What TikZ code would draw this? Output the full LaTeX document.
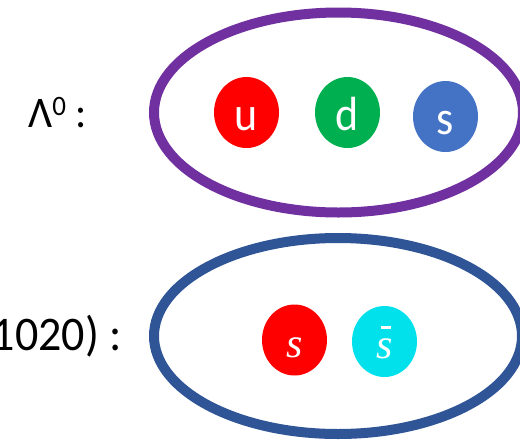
\documentclass[tikz,border=0pt]{standalone}
\usepackage{fontspec}
\setmainfont{Carlito}
\newfontfamily\quarkserif{Liberation Serif}
\usetikzlibrary{shapes.geometric}
\definecolor{lambdaring}{HTML}{7030A0}
\definecolor{phiring}{HTML}{2F5597}
\definecolor{qred}{HTML}{FF0000}
\definecolor{qgreen}{HTML}{00B050}
\definecolor{qblue}{HTML}{4472C4}
\definecolor{qcyan}{HTML}{00E1EB}
% slightly tall lettering
\newcommand\tallbox[2][1.09]{\scalebox{1}[#1]{#2}}
\begin{document}
\begin{tikzpicture}[x=1pt,y=-1pt,
  hadron/.style={ellipse, draw, line width=10pt, inner sep=0pt},
  quark/.style={ellipse, fill, inner sep=0pt, minimum width=65pt,
    minimum height=71pt, text=white, text height=35pt, text depth=0pt,
    font=\fontsize{44}{44}\selectfont},
  quarkit/.style={quark, text height=34pt,
    font=\fontsize{42}{42}\selectfont\quarkserif\itshape},
  tag/.style={anchor=base east, inner sep=0pt}]
\useasboundingbox (0,0) rectangle (520,440);
\clip (0,0) rectangle (520,440);

% Lambda baryon: u d s
\node[hadron, draw=lambdaring, minimum width=369pt, minimum height=200pt]
  (lambda) at (338.5,112.5) {};
\node[quark, fill=qred]   (u) at (246.5,112.5) {\tallbox{u}};
\node[quark, fill=qgreen] (d) at (347.5,112.5) {\tallbox{d}};
\node[quark, fill=qblue]  (s) at (445.5,116.5) {\tallbox{s}};
\node[tag, font=\fontsize{42}{42}\selectfont] (lambdatag) at (87,127)
  {\tallbox[1.04]{Λ\raisebox{11pt}{\fontsize{27}{27}\selectfont 0} :}};

% phi meson: s sbar
\node[hadron, draw=phiring, minimum width=368pt, minimum height=196pt]
  (phi) at (338,336) {};
\node[quarkit, fill=qred]  (s1) at (294.5,340) {s};
\node[quarkit, fill=qcyan] (s2) at (384.5,341.5)
  {s\llap{\rule[30pt]{10pt}{2.2pt}\hspace{2pt}}};
\node[tag, font=\fontsize{46}{46}\selectfont] (phitag) at (122,350)
  {\tallbox[1.05]{φ(1020) :}};
\end{tikzpicture}
\end{document}
